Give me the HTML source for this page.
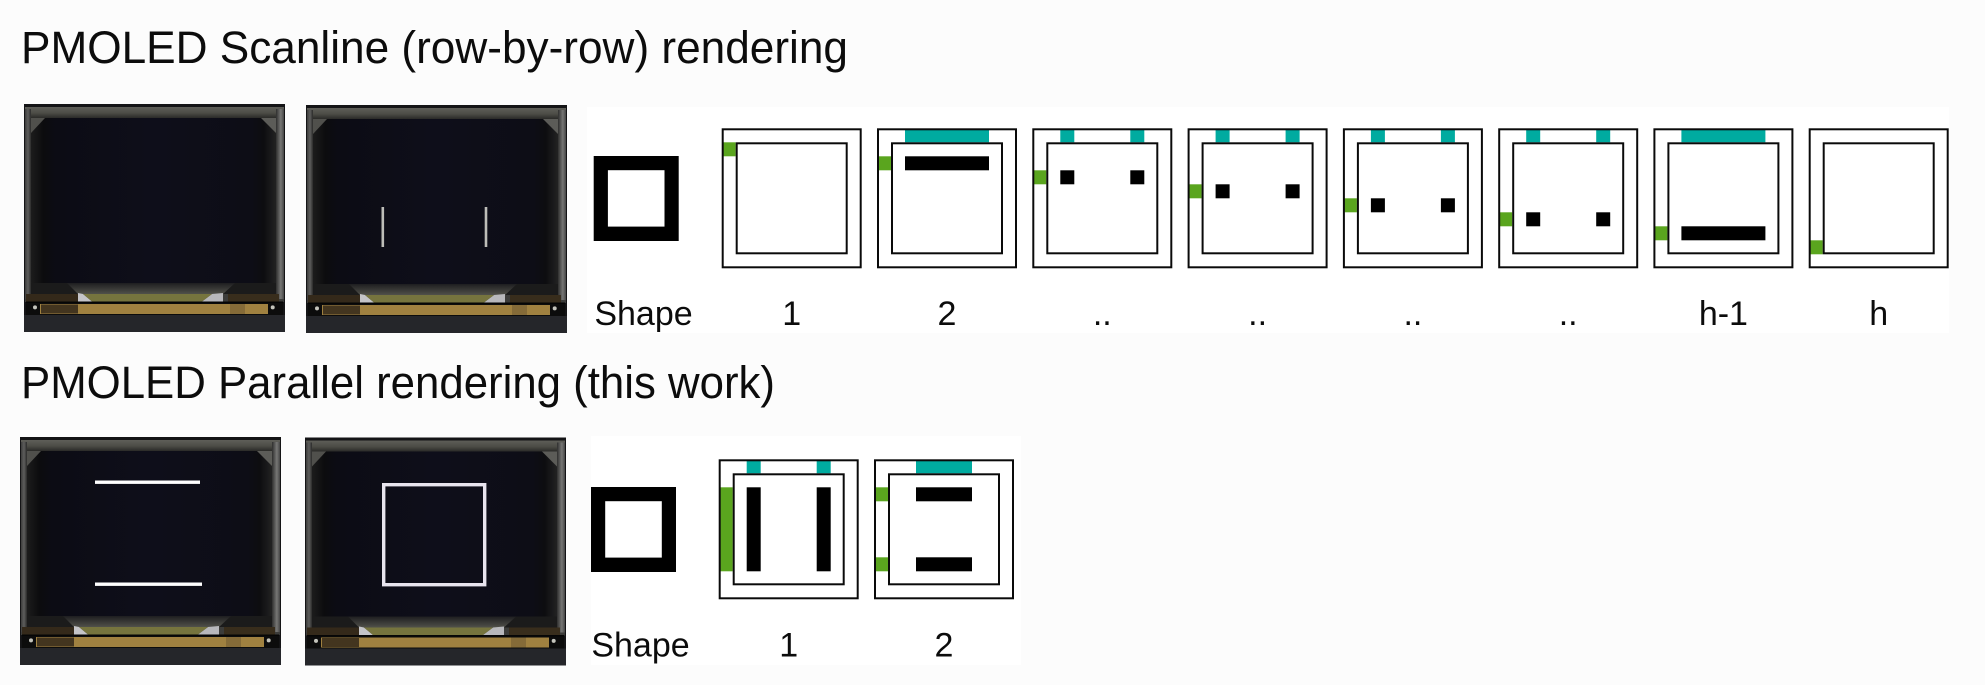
<!DOCTYPE html>
<html>
<head>
<meta charset="utf-8">
<title>PMOLED rendering</title>
<style>
html,body{margin:0;padding:0;background:#fcfcfc}
svg{display:block}
text{font-family:"Liberation Sans",sans-serif;fill:#0c0c0c}
</style>
</head>
<body>
<svg xmlns="http://www.w3.org/2000/svg" width="1985" height="685" viewBox="0 0 1985 685">
<defs>
<linearGradient id="gTop" x1="0" y1="0" x2="0" y2="1"><stop offset="0" stop-color="#5e5e58"/><stop offset=".55" stop-color="#4c4c46"/><stop offset="1" stop-color="#2a2a28"/></linearGradient>
<linearGradient id="gLow" x1="0" y1="0" x2="0" y2="1"><stop offset="0" stop-color="#1e1e20"/><stop offset="1" stop-color="#50504a"/></linearGradient>
<linearGradient id="gL" x1="0" y1="0" x2="1" y2="0"><stop offset="0" stop-color="#3c3c3c"/><stop offset=".5" stop-color="#5e5e5c"/><stop offset="1" stop-color="#2a2a2a"/></linearGradient>
<linearGradient id="gR" x1="0" y1="0" x2="1" y2="0"><stop offset="0" stop-color="#2e2e2e"/><stop offset=".6" stop-color="#777775"/><stop offset="1" stop-color="#454545"/></linearGradient>
<linearGradient id="gPanel" x1="0" y1="0" x2="1" y2="0"><stop offset="0" stop-color="#1c1c1c"/><stop offset=".05" stop-color="#0c0c0e"/><stop offset=".1" stop-color="#0c0c14"/><stop offset=".5" stop-color="#0e0e1a"/><stop offset=".9" stop-color="#0d0d16"/><stop offset=".95" stop-color="#0d0d10"/><stop offset="1" stop-color="#222222"/></linearGradient>

<g id="photo">
<rect x="0" y="0" width="261" height="228" fill="#141416"/>
<rect x="1" y="3" width="259" height="195" fill="#3c3c3a"/>
<rect x="1" y="3" width="259" height="11" fill="url(#gTop)"/>
<rect x="1" y="5" width="6" height="190" fill="url(#gL)"/>
<rect x="252" y="5" width="8" height="190" fill="url(#gR)"/>
<rect x="7" y="14" width="245" height="165" fill="url(#gPanel)"/>
<polygon points="7,14 21,14 7,29" fill="#50504c"/>
<polygon points="237,14 252,14 252,29" fill="#5c5c58"/>
<rect x="7" y="179" width="245" height="11" fill="#1b1b1b"/>
<polygon points="43,179 211,179 199,190 54,190" fill="url(#gLow)"/>
<rect x="2" y="190" width="52" height="7.5" fill="#34291a"/>
<rect x="204" y="190" width="51" height="7.5" fill="#382d1c"/>
<polygon points="54,189 59,190 68,197.5 54,197.5" fill="#c4c4c8"/>
<polygon points="188,190 199,189 199,197.5 178,197.5" fill="#b8b8bc"/>
<polygon points="59,190 188,190 178,197.5 68,197.5" fill="#76743e"/>
<rect x="2" y="197.5" width="257" height="3" fill="#060606"/>
<rect x="2" y="199" width="257" height="12" fill="#0c0c0c"/>
<rect x="16" y="200" width="228" height="10" fill="#a08140"/>
<rect x="17" y="200.5" width="37" height="9" fill="#43351f"/>
<rect x="206" y="200" width="15" height="10" fill="#856b38"/>
<circle cx="11" cy="203.4" r="2" fill="#c4c4bc"/>
<circle cx="248.7" cy="203.4" r="2" fill="#c4c4bc"/>
<rect x="0" y="211" width="261" height="17" fill="#25262a"/>
</g>

<g id="shp">
<rect x="0" y="0" width="85" height="85" fill="#000"/>
<rect x="14.2" y="14.2" width="56.6" height="56.4" fill="#fff"/>
</g>

<g id="fr">
<rect x="1" y="1" width="138" height="138" fill="none" stroke="#0a0a0a" stroke-width="2"/>
<rect x="15" y="15" width="110" height="110" fill="none" stroke="#0a0a0a" stroke-width="2"/>
</g>
</defs>

<rect width="1985" height="685" fill="#fcfcfc"/>

<text x="21" y="63" font-size="45" textLength="827" lengthAdjust="spacingAndGlyphs">PMOLED Scanline (row-by-row) rendering</text>
<text x="21" y="398" font-size="45" textLength="754" lengthAdjust="spacingAndGlyphs">PMOLED Parallel rendering (this work)</text>

<!-- photos row 1 -->
<use href="#photo" x="24" y="104"/>
<use href="#photo" x="306" y="105"/>
<rect x="381.5" y="207" width="2.6" height="40" fill="#bdbdb8"/>
<rect x="484.7" y="207" width="2.6" height="40" fill="#bdbdb8"/>

<!-- photos row 2 -->
<use href="#photo" x="20" y="437"/>
<use href="#photo" x="305" y="437.5"/>
<rect x="95" y="480.5" width="105" height="3.4" fill="#fff"/>
<rect x="95" y="582.5" width="107" height="3.4" fill="#fff"/>
<rect x="383.7" y="484.7" width="101" height="100" fill="none" stroke="#e8e4ee" stroke-width="3.4"/>

<!-- panel row 1 -->
<rect x="587" y="107" width="1362" height="226" fill="#fff"/>
<use href="#shp" x="593.7" y="156"/>
<g transform="translate(721.7,128.3)">
<rect x="1" y="14" width="13" height="14" fill="#5aa51e"/>
<use href="#fr"/>
</g>
<g transform="translate(877,128.3)">
<rect x="1" y="28" width="13" height="14" fill="#5aa51e"/>
<rect x="28" y="1" width="84" height="13" fill="#00aba0"/>
<rect x="28" y="28" width="84" height="14" fill="#000"/>
<use href="#fr"/>
</g>
<g transform="translate(1032.3,128.3)">
<rect x="1" y="42" width="13" height="14" fill="#5aa51e"/>
<rect x="28" y="1" width="14" height="13" fill="#00aba0"/>
<rect x="98" y="1" width="14" height="13" fill="#00aba0"/>
<rect x="28" y="42" width="14" height="14" fill="#000"/>
<rect x="98" y="42" width="14" height="14" fill="#000"/>
<use href="#fr"/>
</g>
<g transform="translate(1187.6,128.3)">
<rect x="1" y="56" width="13" height="14" fill="#5aa51e"/>
<rect x="28" y="1" width="14" height="13" fill="#00aba0"/>
<rect x="98" y="1" width="14" height="13" fill="#00aba0"/>
<rect x="28" y="56" width="14" height="14" fill="#000"/>
<rect x="98" y="56" width="14" height="14" fill="#000"/>
<use href="#fr"/>
</g>
<g transform="translate(1342.9,128.3)">
<rect x="1" y="70" width="13" height="14" fill="#5aa51e"/>
<rect x="28" y="1" width="14" height="13" fill="#00aba0"/>
<rect x="98" y="1" width="14" height="13" fill="#00aba0"/>
<rect x="28" y="70" width="14" height="14" fill="#000"/>
<rect x="98" y="70" width="14" height="14" fill="#000"/>
<use href="#fr"/>
</g>
<g transform="translate(1498.2,128.3)">
<rect x="1" y="84" width="13" height="14" fill="#5aa51e"/>
<rect x="28" y="1" width="14" height="13" fill="#00aba0"/>
<rect x="98" y="1" width="14" height="13" fill="#00aba0"/>
<rect x="28" y="84" width="14" height="14" fill="#000"/>
<rect x="98" y="84" width="14" height="14" fill="#000"/>
<use href="#fr"/>
</g>
<g transform="translate(1653.4,128.3)">
<rect x="1" y="98" width="13" height="14" fill="#5aa51e"/>
<rect x="28" y="1" width="84" height="13" fill="#00aba0"/>
<rect x="28" y="98" width="84" height="14" fill="#000"/>
<use href="#fr"/>
</g>
<g transform="translate(1808.7,128.3)">
<rect x="1" y="112" width="13" height="14" fill="#5aa51e"/>
<use href="#fr"/>
</g>

<g font-size="34" text-anchor="middle">
<text x="643.5" y="325">Shape</text>
<text x="791.7" y="325">1</text>
<text x="947" y="325">2</text>
<text x="1102.3" y="325">..</text>
<text x="1257.6" y="325">..</text>
<text x="1412.9" y="325">..</text>
<text x="1568.2" y="325">..</text>
<text x="1723.4" y="325">h-1</text>
<text x="1878.7" y="325">h</text>
</g>

<!-- panel row 2 -->
<rect x="591" y="436" width="430" height="229" fill="#fff"/>
<use href="#shp" x="591" y="487"/>
<g transform="translate(718.7,459.3)">
<rect x="1" y="28" width="13" height="84" fill="#5aa51e"/>
<rect x="28" y="1" width="14" height="13" fill="#00aba0"/>
<rect x="98" y="1" width="14" height="13" fill="#00aba0"/>
<rect x="28" y="28" width="14" height="84" fill="#000"/>
<rect x="98" y="28" width="14" height="84" fill="#000"/>
<use href="#fr"/>
</g>
<g transform="translate(874,459.3)">
<rect x="1" y="28" width="13" height="14" fill="#5aa51e"/>
<rect x="1" y="98" width="13" height="14" fill="#5aa51e"/>
<rect x="42" y="1" width="56" height="13" fill="#00aba0"/>
<rect x="42" y="28" width="56" height="14" fill="#000"/>
<rect x="42" y="98" width="56" height="14" fill="#000"/>
<use href="#fr"/>
</g>
<g font-size="34" text-anchor="middle">
<text x="640.5" y="656.7">Shape</text>
<text x="788.7" y="656.7">1</text>
<text x="944" y="656.7">2</text>
</g>
</svg>
</body>
</html>
